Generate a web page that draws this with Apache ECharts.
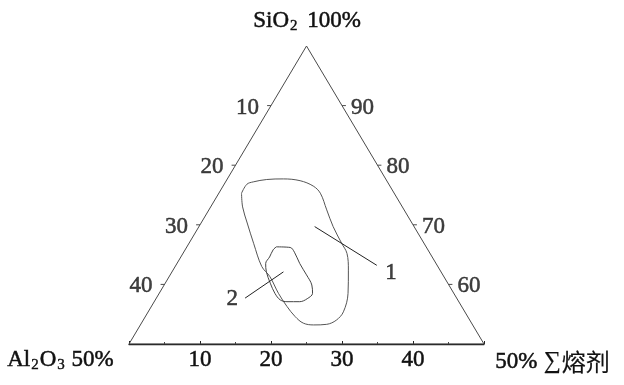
<!DOCTYPE html>
<html>
<head>
<meta charset="utf-8">
<script src="https://cdn.jsdelivr.net/npm/echarts@6/dist/echarts.min.js"></script>
<style>html,body{margin:0;padding:0;background:#fff}#c{width:624px;height:385px}</style>
</head>
<body>
<div id="c"></div>
<script>
// Ternary: SiO2 (50..100), Al2O3 (0..50), ΣFlux (0..50); values are SiO2 % and flux %
var cornerSiO2 = [50, 50, 100, 50];
var cornerFlux = [0, 50, 0, 0];
var bottomTicks = [10, 20, 30, 40];          // ΣFlux along base
var leftTicks = [10, 20, 30, 40];            // Al2O3 along left edge
var rightTicks = [90, 80, 70, 60];           // SiO2 along right edge

var zone1SiO2 = [75.3, 76.8, 77.2, 77.6, 77.7, 77.4, 76.5, 75.3, 72.5, 69.7, 66.9, 65.2, 62.4, 58.5, 55.4, 54.0, 53.3, 53.2, 53.5, 54.6, 56.3, 58.5, 61.3, 63.0, 66.9, 70.3, 73.0, 75.3];
var zone1Flux = [3.2, 3.2, 3.9, 5.6, 7.9, 10.4, 12.7, 14.3, 16.6, 18.9, 21.5, 23.1, 24.7, 26.6, 27.5, 27.2, 26.2, 24.4, 22.8, 21.1, 19.1, 16.8, 14.2, 12.2, 9.1, 6.5, 4.5, 3.2];

var zone2SiO2 = [66.3, 66.2, 65.4, 63.5, 61.6, 59.9, 58.5, 57.6, 57.1, 57.1, 57.4, 58.5, 60.2, 62.1, 63.5, 64.6, 65.8, 66.3];
var zone2Flux = [12.6, 14.6, 15.6, 17.3, 19.2, 20.8, 21.6, 21.3, 20.5, 18.7, 17.6, 16.3, 14.8, 13.3, 12.5, 12.5, 12.4, 12.6];

var leader1SiO2 = [69.7, 63.2], leader1Flux = [16.3, 28.3];
var leader2SiO2 = [62.1, 57.7], leader2Flux = [15.7, 12.5];
var zoneNames = ['1', '2'];
var nameSiO2 = [62.0, 57.5], nameFlux = [30.9, 10.8];

function toXY(s, f) { return [f + (s - 50) / 2, s - 50]; }
function pts(S, F) { return S.map(function (s, i) { return toXY(s, F[i]); }); }

var serif = 'Liberation Serif, "Noto Sans CJK SC", serif';
var txt = '#111';
var lineCol = '#4a4a4a';
var fs = 23;

var leftPts = leftTicks.map(function (a) { return toXY(100 - a, 0); });
var rightPts = rightTicks.map(function (s) { return toXY(s, 100 - s); });
var tickLen = 0.55;
var tickData = [];
leftPts.forEach(function (p) { tickData.push([p[0], p[1]], [p[0] - tickLen, p[1]], '-'); });
rightPts.forEach(function (p) { tickData.push([p[0], p[1]], [p[0] + tickLen, p[1]], '-'); });

function lbl(extra) {
  var o = { show: true, formatter: '{b}', fontFamily: serif, fontSize: fs, color: txt, textBorderColor: txt, textBorderWidth: 0.5 };
  for (var k in extra) o[k] = extra[k];
  return o;
}
function g(size, extra) {
  var o = { fontFamily: serif, fontSize: size, fill: txt, stroke: txt, lineWidth: 0.5 };
  for (var k in extra) o[k] = extra[k];
  return o;
}

var chart = echarts.init(document.getElementById('c'), null, { renderer: 'canvas' });
chart.setOption({
  animation: false,
  backgroundColor: '#fff',
  grid: { left: 129, right: 140, top: 46, bottom: 41 },
  xAxis: {
    type: 'value', min: 0, max: 50, interval: 10,
    axisLine: { show: true, lineStyle: { color: '#222', width: 1.3 } },
    axisTick: { show: true, inside: true, length: 3, lineStyle: { color: '#222' } },
    minorTick: { show: true, splitNumber: 2, length: 2, lineStyle: { color: '#444' } },
    splitLine: { show: false },
    axisLabel: {
      fontFamily: serif, fontSize: fs, color: txt, margin: 4, textBorderColor: txt, textBorderWidth: 0.5,
      formatter: function (v) { return bottomTicks.indexOf(v) >= 0 ? String(v) : ''; }
    }
  },
  yAxis: { type: 'value', min: 0, max: 50, show: false },
  series: [
    { type: 'line', data: pts(cornerSiO2, cornerFlux), symbol: 'none', lineStyle: { color: lineCol, width: 1 }, z: 2 },
    { type: 'line', data: tickData, symbol: 'none', connectNulls: false, lineStyle: { color: lineCol, width: 1 } },
    { type: 'line', data: pts(zone1SiO2, zone1Flux), smooth: 0.35, symbol: 'none', lineStyle: { color: '#555', width: 1 } },
    { type: 'line', data: pts(zone2SiO2, zone2Flux), smooth: 0.35, symbol: 'none', lineStyle: { color: '#444', width: 1 } },
    { type: 'line', data: pts(leader1SiO2, leader1Flux), symbol: 'none', lineStyle: { color: '#222', width: 1 } },
    { type: 'line', data: pts(leader2SiO2, leader2Flux), symbol: 'none', lineStyle: { color: '#222', width: 1 } },
    {
      type: 'scatter', symbolSize: 0,
      data: pts(nameSiO2, nameFlux).map(function (p, i) { return { value: p, name: zoneNames[i] }; }),
      label: lbl({ position: 'inside' })
    },
    {
      type: 'scatter', symbolSize: 0,
      data: leftPts.map(function (p, i) { return { value: p, name: String(leftTicks[i]) }; }),
      label: lbl({ position: 'left', distance: 12, offset: [0, 2] })
    },
    {
      type: 'scatter', symbolSize: 0,
      data: rightPts.map(function (p, i) { return { value: p, name: String(rightTicks[i]) }; }),
      label: lbl({ position: 'right', distance: 9, offset: [0, 2] })
    }
  ],
  graphic: [
    {
      type: 'text', left: 253, top: 9,
      style: {
        text: '{a|SiO}{s|2}{a| 100%}', fill: txt,
        rich: { a: g(fs), s: g(15, { lineWidth: 0.4, padding: [10, 4, 0, 1] }) }
      }
    },
    {
      type: 'text', left: 7, top: 348,
      style: {
        text: '{a|Al}{s|2}{a|O}{s|3}{a| 50%}', fill: txt,
        rich: { a: g(fs), s: g(15, { lineWidth: 0.4, padding: [10, 1, 0, 1] }) }
      }
    },
    {
      type: 'text', left: 495, top: 350,
      style: {
        text: '{a|50%} {b|∑}{c|熔剂}', fill: txt,
        rich: {
          a: g(fs),
          b: g(24, { lineWidth: 0.2, padding: [0, 1, 0, 3] }),
          c: g(24, { fontFamily: '"Noto Sans CJK SC", sans-serif', lineWidth: 0.2 })
        }
      }
    }
  ]
});
</script>
</body>
</html>
